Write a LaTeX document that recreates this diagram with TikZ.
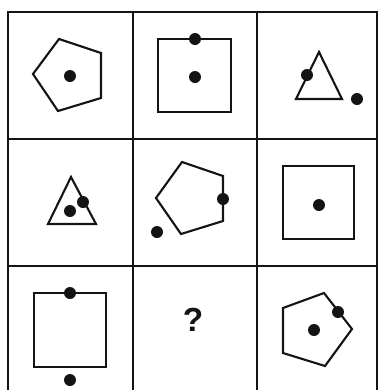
\documentclass[tikz,border=0pt]{standalone}
\usepackage{fontspec}
\setmainfont{Liberation Sans}
\usepackage{tikz}
\usetikzlibrary{positioning}
\usepackage{xcolor}
\definecolor{ink}{RGB}{20,20,20}

\begin{document}
\begin{tikzpicture}[
    x=0.02cm, y=-0.02cm,
    gridline/.style={line width=1.3pt, ink},
    figline/.style={line width=1.2pt, ink, line join=miter},
    dot/.style={circle, fill=ink, inner sep=0pt, minimum size=0.24cm},
]
\useasboundingbox (0,0) rectangle (380,390);

% grid
\draw[gridline] (8,12) rectangle (377,393);
\draw[gridline] (133,12) -- (133,393);
\draw[gridline] (257,12) -- (257,393);
\draw[gridline] (8,139) -- (377,139);
\draw[gridline] (8,266) -- (377,266);

% row 1
\draw[figline] (59,39) -- (101,53) -- (101,98) -- (58,111) -- (33,74) -- cycle;
\node[dot] (d11) at (70,76) {};

\draw[figline] (158,39) rectangle (231,112);
\node[dot] (d12a) at (195,39) {};
\node[dot] (d12b) at (195,77) {};

\draw[figline] (319,52) -- (342,99) -- (296,99) -- cycle;
\node[dot] (d13a) at (307,75) {};
\node[dot] (d13b) at (357,99) {};

% row 2
\draw[figline] (71,177) -- (96,224) -- (48,224) -- cycle;
\node[dot] (d21a) at (70,211) {};
\node[dot] (d21b) at (83,202) {};

\draw[figline] (182,162) -- (223,176) -- (223,221) -- (181,234) -- (156,198) -- cycle;
\node[dot] (d22a) at (223,199) {};
\node[dot] (d22b) at (157,232) {};

\draw[figline] (283,166) rectangle (354,239);
\node[dot] (d23) at (319,205) {};

% row 3
\draw[figline] (34,293) rectangle (106,367);
\node[dot] (d31a) at (70,293) {};
\node[dot] (d31b) at (70,380) {};

\node[font=\fontsize{19}{23}\selectfont\bfseries, text=ink] (q) at (193,320) {?};

\draw[figline] (324,293) -- (352,329) -- (325,366) -- (283,353) -- (283,308) -- cycle;
\node[dot] (d33a) at (338,312) {};
\node[dot] (d33b) at (314,330) {};

\end{tikzpicture}
\end{document}
